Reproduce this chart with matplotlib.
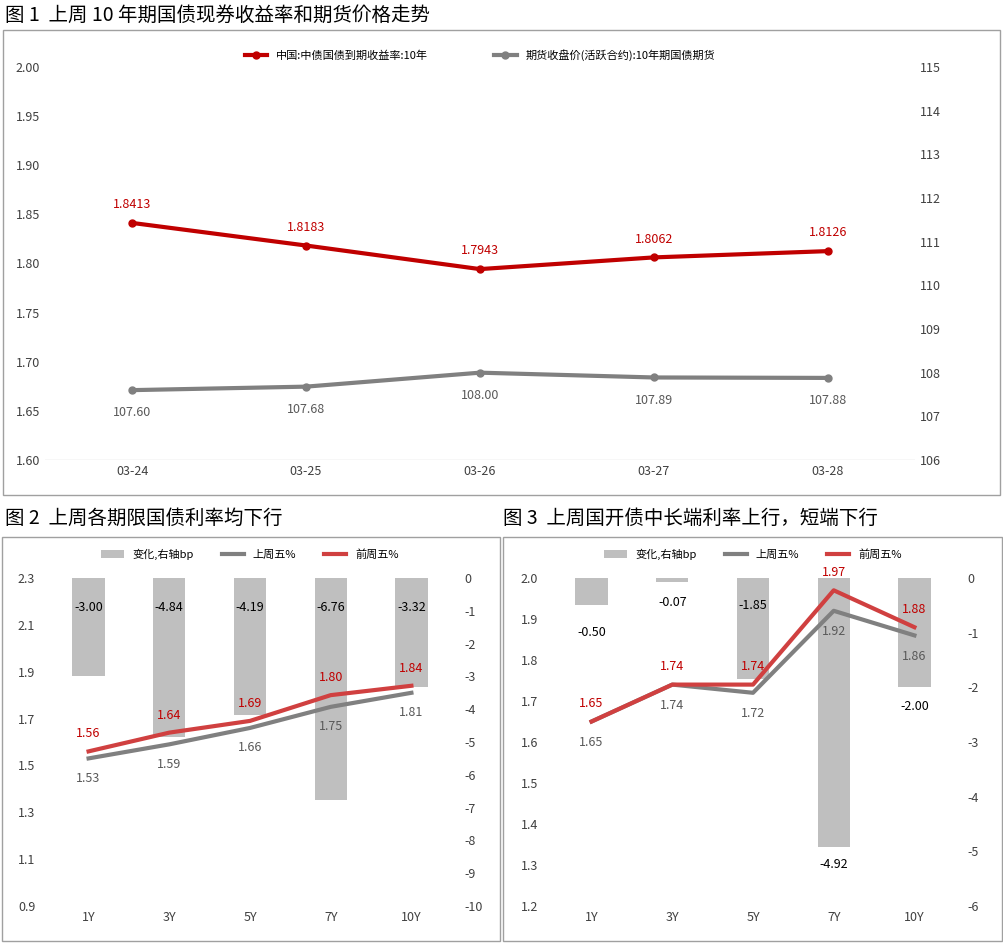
import matplotlib
matplotlib.use("Agg")
import matplotlib.pyplot as plt
from matplotlib.patches import Rectangle
from matplotlib import font_manager
import numpy as np

cjk = [f.name for f in font_manager.fontManager.ttflist if "CJK" in f.name]
pref = [n for n in ["Noto Sans CJK SC", "Noto Sans CJK JP", "Noto Sans CJK TC", "Noto Sans CJK KR"] if n in cjk] or cjk
plt.rcParams['font.family'] = 'sans-serif'
plt.rcParams['font.sans-serif'] = pref[:1] + ['DejaVu Sans']
plt.rcParams['axes.unicode_minus'] = False

dates = ["03-24", "03-25", "03-26", "03-27", "03-28"]
yield10 = [1.8413, 1.8183, 1.7943, 1.8062, 1.8126]
fut10 = [107.60, 107.68, 108.00, 107.89, 107.88]

tenors = ["1Y", "3Y", "5Y", "7Y", "10Y"]
gov_last = [1.53, 1.59, 1.66, 1.75, 1.81]
gov_prev = [1.56, 1.64, 1.69, 1.80, 1.84]
gov_chg = [-3.00, -4.84, -4.19, -6.76, -3.32]

cdb_last = [1.65, 1.74, 1.72, 1.92, 1.86]
cdb_prev = [1.65, 1.74, 1.74, 1.97, 1.88]
cdb_chg = [-0.50, -0.07, -1.85, -4.92, -2.00]

RED = "#C00000"; GRAY = "#808080"; LRED = "#D04040"; BAR = "#BFBFBF"; TXT = "#595959"

fig = plt.figure(figsize=(10.04, 9.43), dpi=100)
W, H = 1004, 943
def box(x0, y0, x1, y1):
    fig.add_artist(Rectangle((x0 / W, 1 - y1 / H), (x1 - x0) / W, (y1 - y0) / H,
                             transform=fig.transFigure, fill=False, ec="#A0A0A0", lw=1))
box(3, 30, 1000, 495); box(2, 537, 500, 941); box(503, 537, 1002, 941)
fig.text(5 / W, 1 - 15 / H, "图 1  上周 10 年期国债现券收益率和期货价格走势", fontsize=14, va="center")
fig.text(5 / W, 1 - 518 / H, "图 2  上周各期限国债利率均下行", fontsize=14, va="center")
fig.text(503 / W, 1 - 518 / H, "图 3  上周国开债中长端利率上行，短端下行", fontsize=14, va="center")

def style(ax):
    for s in ax.spines.values():
        s.set_visible(False)
    ax.tick_params(length=0, labelsize=9, colors="#404040")

# Chart 1
ax = fig.add_axes([0.045, 1 - 460 / H, 0.866, (460 - 67) / H])
x = np.arange(len(dates))
ax.plot(x, yield10, color=RED, lw=3, marker="o", ms=5, label="中国:中债国债到期收益率:10年")
ax.set_ylim(1.60, 2.00); ax.set_yticks(np.arange(1.60, 2.001, 0.05))
ax.set_yticklabels([f"{v:.2f}" for v in np.arange(1.60, 2.001, 0.05)])
ax.set_xlim(-0.5, 4.5); ax.set_xticks(x); ax.set_xticklabels(dates)
for xi, v in zip(x, yield10):
    ax.text(xi, v + 0.015, f"{v:.4f}", color=RED, ha="center", fontsize=9)
ax2 = ax.twinx()
ax2.plot(x, fut10, color=GRAY, lw=3, marker="o", ms=5, label="期货收盘价(活跃合约):10年期国债期货")
ax2.set_ylim(106, 115); ax2.set_yticks(range(106, 116))
for xi, v in zip(x, fut10):
    ax2.text(xi, v - 0.6, f"{v:.2f}", color=TXT, ha="center", fontsize=9)
style(ax); style(ax2)
ax.axhline(1.60, color="#D9D9D9", lw=1)
h1, l1 = ax.get_legend_handles_labels(); h2, l2 = ax2.get_legend_handles_labels()
ax.legend(h1 + h2, l1 + l2, loc="upper center", bbox_to_anchor=(0.5, 1.07), ncol=2,
          frameon=False, fontsize=8, columnspacing=6)

def small(left, last, prev, chg, ylim, yticks, rlim, rticks):
    ax = fig.add_axes([left, 1 - 906 / H, 0.418, (906 - 578) / H])
    ax2 = ax.twinx()
    x = np.arange(len(tenors))
    ax2.bar(x, chg, width=0.4, color=BAR, label="变化,右轴bp")
    ax2.set_ylim(*rlim); ax2.set_yticks(rticks)
    ax2.yaxis.set_major_formatter(matplotlib.ticker.FormatStrFormatter("%d"))
    ax.set_zorder(ax2.get_zorder() + 1); ax.patch.set_visible(False)
    ax.plot(x, last, color=GRAY, lw=3, label="上周五%")
    ax.plot(x, prev, color=LRED, lw=3, label="前周五%")
    ax.set_ylim(*ylim); ax.set_yticks(yticks)
    ax.yaxis.set_major_formatter(matplotlib.ticker.FormatStrFormatter("%.1f"))
    ax.set_xlim(-0.6, 4.6); ax.set_xticks(x); ax.set_xticklabels(tenors)
    style(ax); style(ax2)
    return ax, ax2, x

# Chart 2
a, b, x = small(0.040, gov_last, gov_prev, gov_chg, (0.9, 2.3), np.arange(0.9, 2.31, 0.2),
                (-10, 0), range(-10, 1))
for xi, v in zip(x, gov_chg):
    b.text(xi, -0.9, f"{v:.2f}", ha="center", va="center", fontsize=9)
for xi, v in zip(x, gov_prev):
    a.text(xi, v + 0.06, f"{v:.2f}", color=RED, ha="center", fontsize=9)
for xi, v in zip(x, gov_last):
    a.text(xi, v - 0.1, f"{v:.2f}", color=TXT, ha="center", fontsize=9)
h1, l1 = b.get_legend_handles_labels(); h2, l2 = a.get_legend_handles_labels()
a.legend(h1 + h2, l1 + l2, loc="upper center", bbox_to_anchor=(0.5, 1.12), ncol=3,
         frameon=False, fontsize=8, columnspacing=2.5)

# Chart 3
a, b, x = small(0.541, cdb_last, cdb_prev, cdb_chg, (1.2, 2.0), np.arange(1.2, 2.01, 0.1),
                (-6, 0), range(-6, 1))
cpos = [-1.0, -0.45, -0.5, -5.25, -2.35]
for xi, v, p in zip(x, cdb_chg, cpos):
    b.text(xi, p, f"{v:.2f}", ha="center", va="center", fontsize=9)
for xi, v in zip(x, cdb_prev):
    a.text(xi, v + 0.035, f"{v:.2f}", color=RED, ha="center", fontsize=9)
for xi, v in zip(x, cdb_last):
    a.text(xi, v - 0.06, f"{v:.2f}", color=TXT, ha="center", fontsize=9)
h1, l1 = b.get_legend_handles_labels(); h2, l2 = a.get_legend_handles_labels()
a.legend(h1 + h2, l1 + l2, loc="upper center", bbox_to_anchor=(0.5, 1.12), ncol=3,
         frameon=False, fontsize=8, columnspacing=2.5)

fig.savefig("out.png", dpi=100, facecolor="white")
